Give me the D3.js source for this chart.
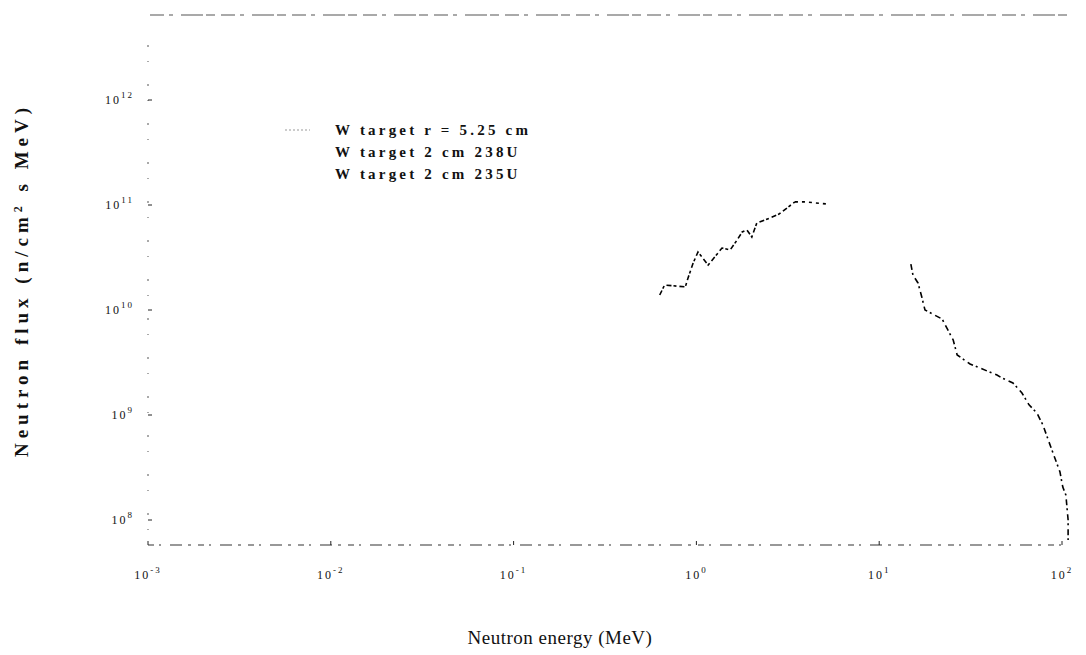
<!DOCTYPE html>
<html>
<head>
<meta charset="utf-8">
<script src="https://cdn.jsdelivr.net/npm/d3@7"></script>
<style>
  body { margin: 0; background: #fff; }
  text { font-family: "Liberation Serif", "DejaVu Serif", serif; fill: #111; }
</style>
</head>
<body>
<div id="graph"></div>
<script>
// Energie des neutrons (MeV) et flux (n/cm2 s MeV)
const energyRise = [0.63, 0.67, 0.87, 0.90, 0.96, 1.02, 1.16, 1.26, 1.38, 1.53, 1.67, 1.78, 1.89, 2.01, 2.14, 2.53, 2.83, 3.46]
const fluxRise = [1.39e10, 1.73e10, 1.66e10, 2.02e10, 2.80e10, 3.57e10, 2.68e10, 3.20e10, 3.89e10, 3.73e10, 4.64e10, 5.53e10, 5.78e10, 4.96e10, 6.74e10, 7.52e10, 8.20e10, 1.07e11]

const energyPeak = [3.46, 3.93, 5.25]
const fluxPeak = [1.07e11, 1.07e11, 1.02e11]

const energyFall = [14.9, 15.3, 16.3, 17.1, 17.8, 22.1, 25.4, 26.7, 31.4, 35.6, 44.1, 47.0, 53.9, 60.4, 66.0, 73.0, 78.7, 84.9, 97.5, 101, 105, 108, 108]
const fluxFall = [2.74e10, 2.15e10, 1.81e10, 1.33e10, 1.0e10, 8.2e9, 5.18e9, 3.73e9, 3.06e9, 2.80e9, 2.40e9, 2.25e9, 2.02e9, 1.62e9, 1.25e9, 1.04e9, 8.0e8, 5.53e8, 2.86e8, 2.06e8, 1.73e8, 1.0e8, 6.45e7]

const legendLabels = ["W target r = 5.25 cm", "W target 2 cm 238U", "W target 2 cm 235U"]
const xTicks = [1e-3, 1e-2, 1e-1, 1, 10, 100]
const xTickLabels = ["-3", "-2", "-1", "0", "1", "2"]
const yTicks = [1e8, 1e9, 1e10, 1e11, 1e12]
const yTickLabels = ["8", "9", "10", "11", "12"]

const W = 1086, H = 655
const margin = { top: 15, left: 148 }
const width = 922, height = 530

const svg = d3.select("#graph").append("svg")
    .attr("width", W)
    .attr("height", H)

const g = svg.append("g")
    .attr("transform", "translate(" + margin.left + "," + margin.top + ")")

// Echelles log-log
const x = d3.scaleLog().domain([1e-3, 100]).range([0, 914])
const y = d3.scaleLog().domain([1e8, 1e12]).range([505, 85])

/* ---------------- CADRE ---------------- */
// ligne du haut (scan pâle, en pointillés)
g.append("line")
    .attr("x1", 2).attr("x2", width).attr("y1", 0).attr("y2", 0)
    .attr("stroke", "#555").attr("stroke-width", 1.2)
    .attr("stroke-dasharray", "14 5 4 8 22 3 9 6")

// ligne du bas
g.append("line")
    .attr("x1", 0).attr("x2", width - 4).attr("y1", height).attr("y2", height)
    .attr("stroke", "#333").attr("stroke-width", 1.2)
    .attr("stroke-dasharray", "6 5 2 9 12 6 3 7")

// axe gauche très pâle
g.append("line")
    .attr("x1", 0).attr("x2", 0).attr("y1", 30).attr("y2", height)
    .attr("stroke", "#555").attr("stroke-width", 1)
    .attr("stroke-dasharray", "2 14 1 22")

// graduations Y
g.selectAll(".ytick")
    .data(yTicks)
    .join("line")
    .attr("x1", 0).attr("x2", 4)
    .attr("y1", d => y(d)).attr("y2", d => y(d))
    .attr("stroke", "#222")

const yLab = g.selectAll(".ylab")
    .data(yTicks)
    .join("text")
    .attr("x", -14)
    .attr("y", d => y(d) + 4)
    .attr("text-anchor", "end")
    .attr("font-size", 12)
    .attr("letter-spacing", 2)
    .attr("fill", "#777")
yLab.append("tspan").text("10")
yLab.append("tspan").attr("dy", -6).attr("font-size", 9)
    .text((d, i) => yTickLabels[i])

// graduations X
g.selectAll(".xtick")
    .data(xTicks)
    .join("line")
    .attr("x1", d => x(d)).attr("x2", d => x(d))
    .attr("y1", height).attr("y2", height - 4)
    .attr("stroke", "#222")

const xLab = g.selectAll(".xlab")
    .data(xTicks)
    .join("text")
    .attr("x", d => x(d))
    .attr("y", height + 34)
    .attr("text-anchor", "middle")
    .attr("font-size", 12)
    .attr("letter-spacing", 2)
    .attr("fill", "#777")
xLab.append("tspan").text("10")
xLab.append("tspan").attr("dy", -6).attr("font-size", 9)
    .text((d, i) => xTickLabels[i])

/* ---------------- COURBES ---------------- */
const line = d3.line()
    .x(d => x(d[0]))
    .y(d => y(d[1]))

const series = [
    { e: energyRise, f: fluxRise, dash: "5 2 3 3" },
    { e: energyPeak, f: fluxPeak, dash: "3 4" },
    { e: energyFall, f: fluxFall, dash: "6 3 2 4" }
]

series.forEach(s => {
    g.append("path")
        .datum(s.e.map((v, i) => [v, s.f[i]]))
        .attr("d", line)
        .attr("fill", "none")
        .attr("stroke", "#000")
        .attr("stroke-width", 1.6)
        .attr("stroke-dasharray", s.dash)
})

/* ---------------- LEGENDE ---------------- */
g.append("line")
    .attr("x1", 137).attr("x2", 162).attr("y1", 115).attr("y2", 115)
    .attr("stroke", "#999").attr("stroke-dasharray", "2 2")

g.selectAll(".leg")
    .data(legendLabels)
    .join("text")
    .attr("x", 187)
    .attr("y", (d, i) => 120 + i * 22)
    .attr("font-size", 15)
    .attr("font-weight", "bold")
    .attr("letter-spacing", 3.2)
    .text(d => d)

/* ---------------- TITRES D'AXES ---------------- */
svg.append("text")
    .attr("x", 560)
    .attr("y", 644)
    .attr("text-anchor", "middle")
    .attr("font-size", 19)
    .attr("letter-spacing", 0.5)
    .attr("fill", "#333")
    .text("Neutron energy (MeV)")

const yTitle = svg.append("text")
    .attr("transform", "translate(28,280) rotate(-90)")
    .attr("text-anchor", "middle")
    .attr("font-size", 19)
    .attr("font-weight", "bold")
    .attr("letter-spacing", 5)
    .attr("fill", "#333")
yTitle.append("tspan").text("Neutron flux (n/cm")
yTitle.append("tspan").attr("dy", -6).attr("font-size", 12).text("2")
yTitle.append("tspan").attr("dy", 6).text(" s MeV)")
</script>
</body>
</html>
